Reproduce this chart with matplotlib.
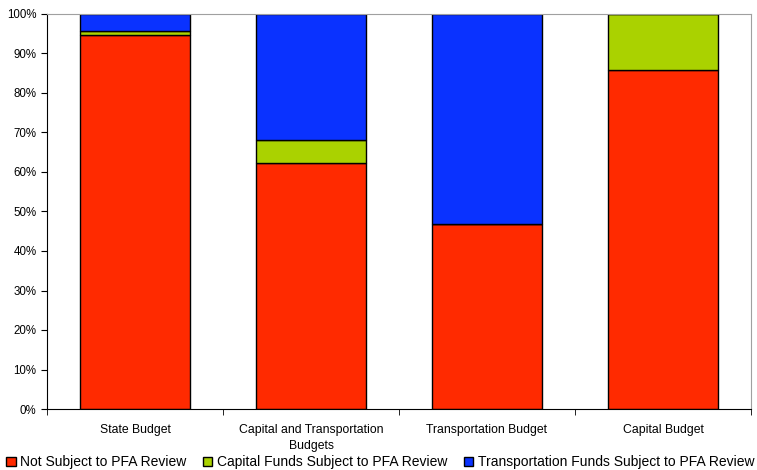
import matplotlib
matplotlib.use('Agg')
import matplotlib.pyplot as plt
import numpy as np

plt.rcParams['font.family'] = ['Liberation Sans', 'DejaVu Sans']

categories = ['State Budget', 'Capital and Transportation\nBudgets', 'Transportation Budget', 'Capital Budget']
not_subject = [94.8, 62.3, 46.8, 85.7]
capital_funds = [0.8, 5.8, 0.0, 14.3]
transport_funds = [4.4, 31.9, 53.2, 0.0]

fig = plt.figure(figsize=(7.57, 4.70), dpi=100)
ax = fig.add_axes([47 / 757, 1 - 409 / 470, 704 / 757, 395 / 470])

x = np.arange(len(categories))
w = 0.625
ax.bar(x, not_subject, w, color='#FF2A00', edgecolor='black', linewidth=1, label='Not Subject to PFA Review')
ax.bar(x, capital_funds, w, bottom=not_subject, color='#AAD200', edgecolor='black', linewidth=1,
       label='Capital Funds Subject to PFA Review')
bottom2 = np.array(not_subject) + np.array(capital_funds)
ax.bar(x, transport_funds, w, bottom=bottom2, color='#0A32FF', edgecolor='black', linewidth=1,
       label='Transportation Funds Subject to PFA Review')

ax.set_xlim(-0.5, len(categories) - 0.5)
ax.set_ylim(0, 100)
ax.set_yticks(np.arange(0, 101, 10))
ax.set_yticklabels([f'{v}%' for v in range(0, 101, 10)], fontsize=8.3)
ax.set_xticks(x)
ax.set_xticklabels(categories, fontsize=8.8, linespacing=1.4)
ax.tick_params(axis='x', which='major', length=0, pad=11)
ax.set_xticks(np.arange(-0.5, len(categories)), minor=True)
ax.tick_params(axis='x', which='minor', length=4, direction='out')
ax.tick_params(axis='y', length=4, direction='out')

for s in ['top', 'right']:
    ax.spines[s].set_color('#A0A0A0')
ax.spines['left'].set_color('black')
ax.spines['bottom'].set_color('black')

fig.legend(loc='lower center', ncol=3, fontsize=10, frameon=False, bbox_to_anchor=(0.502, -0.025),
           handlelength=0.7, handleheight=0.7, handletextpad=0.3, columnspacing=1.2)

plt.savefig('out.png', dpi=100)
